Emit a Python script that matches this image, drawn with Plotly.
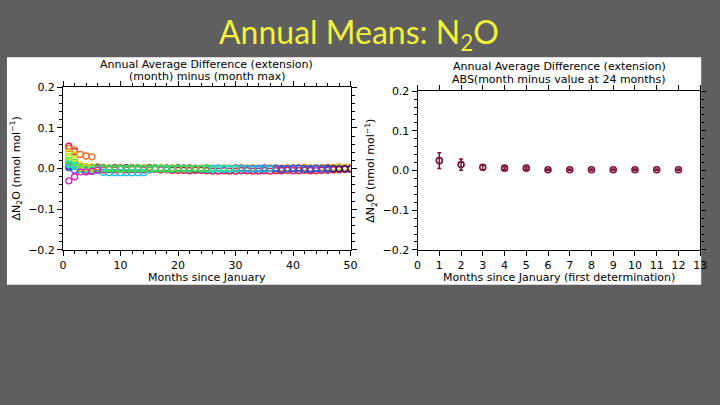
import plotly.graph_objects as go

W, H = 720, 405

# ---------------- data ----------------
months_left = list(range(1, 51))

red = [0.055, 0.042, 0.004, -0.004, -0.006, -0.004, -0.003, -0.002, -0.003, -0.002,
       -0.003, -0.002, -0.002, -0.003, -0.003, -0.002, -0.003, -0.003, -0.004, -0.004,
       -0.004, -0.005, -0.004, -0.004, -0.005, -0.006, -0.006, -0.005, -0.006, -0.006,
       -0.005, -0.005, -0.006, -0.006, -0.005, -0.006, -0.005, -0.005, -0.004, -0.005,
       -0.005, -0.004, -0.005, -0.005, -0.004, -0.004, -0.003, -0.003, -0.002, -0.002]
orange = [0.050, 0.046, 0.035, 0.031, 0.029, 0.004, 0.003, 0.002, 0.003, 0.002,
          0.002, 0.003, 0.002, 0.002, 0.003, 0.002, 0.002, 0.001, 0.002, 0.002,
          0.001, 0.002, 0.001, 0.001, 0.002, 0.001, 0.001, 0.002, 0.001, 0.001,
          0.002, 0.001, 0.002, 0.001, 0.001, 0.002, 0.001, 0.001, 0.002, 0.002,
          0.002, 0.003, 0.002, 0.002, 0.003, 0.003, 0.003, 0.004, 0.003, 0.003]
yellow = [0.040, 0.034, 0.010, 0.005, 0.004, 0.003, 0.002, 0.001, 0.002, 0.001,
          0.001, 0.002, 0.001, 0.001, 0.002, 0.001, 0.001, 0.000, 0.001, 0.001,
          0.000, 0.001, 0.000, 0.000, 0.001, 0.000, 0.000, 0.001, 0.000, 0.000,
          0.001, 0.000, 0.001, 0.000, 0.000, 0.001, 0.000, 0.000, 0.001, 0.001,
          0.001, 0.002, 0.001, 0.001, 0.002, 0.002, 0.002, 0.003, 0.002, 0.002]
navy = [0.006, 0.008, 0.003, 0.001, 0.001, 0.002, 0.001, 0.000, 0.001, 0.001,
        0.002, 0.001, 0.001, 0.000, 0.001, 0.001, 0.000, 0.001, 0.000, 0.001,
        0.001, 0.000, -0.001, 0.000, 0.001, 0.000, 0.000, -0.001, 0.000, 0.001,
        0.000, 0.000, -0.001, 0.000, 0.001, 0.000, 0.000, -0.001, 0.000, 0.000,
        0.001, 0.000, -0.001, 0.000, 0.000, 0.001, 0.000, 0.000, 0.000, 0.000]
blue = [0.002, -0.004, 0.001, 0.000, 0.002, 0.001, 0.000, 0.000, 0.001, 0.000,
        0.001, 0.000, 0.000, -0.001, 0.000, 0.001, 0.000, 0.000, -0.001, 0.000,
        0.000, 0.001, 0.000, -0.001, 0.000, 0.000, 0.001, 0.000, -0.001, 0.000,
        0.001, 0.000, 0.000, -0.001, 0.000, 0.000, 0.001, -0.001, 0.000, 0.001,
        0.000, -0.001, 0.000, 0.001, 0.000, -0.001]
cyan = [0.010, 0.005, -0.002, -0.003, -0.004, -0.004, -0.009, -0.010, -0.010, -0.010,
        -0.010, -0.010, -0.010, -0.010, -0.002, -0.001, 0.000, 0.000, -0.001, 0.000,
        0.000, -0.001, 0.000, 0.000, -0.002, -0.002, -0.001, -0.002, -0.001, -0.001,
        0.000, -0.001, -0.001, 0.000, -0.001, 0.000]
aqua = [0.012, 0.008, 0.000, 0.001, -0.001, 0.000, 0.001, 0.000, 0.000, -0.001,
        0.000, 0.001, 0.000, 0.000, 0.000, 0.001, 0.000, -0.001, 0.000, 0.000,
        0.001, 0.000, 0.000, 0.000, 0.001, 0.000, 0.000, 0.001, 0.000, 0.000]
green = [0.020, 0.015, 0.000, 0.000, 0.000, 0.000, 0.000, 0.001, 0.000, 0.000,
         0.000, 0.000, 0.001, 0.000, 0.000, 0.000, 0.001, 0.000, 0.000, 0.000,
         0.000, 0.000, 0.000, 0.000, 0.000]
ygreen = [0.030, 0.025, 0.003, 0.002, 0.001]
magenta = [-0.030, -0.020, -0.008, -0.008, -0.007, -0.003]

left_series = [
    ("red", red, "#d8184a"),
    ("orange", orange, "#f06a1e"),
    ("yellow", yellow, "#e6d800"),
    ("navy", navy, "#2a1878"),
    ("blue", blue, "#3a5cf0"),
    ("cyan", cyan, "#22bce8"),
    ("aqua", aqua, "#28f0b0"),
    ("green", green, "#40e038"),
    ("ygreen", ygreen, "#a8e820"),
    ("magenta", magenta, "#d81cc8"),
]

months_right = [1, 2, 3, 4, 5, 6, 7, 8, 9, 10, 11, 12]
abs_diff = [0.025, 0.015, 0.008, 0.006, 0.006, 0.002, 0.002, 0.002, 0.002, 0.002, 0.002, 0.002]
abs_err = [0.020, 0.014, 0.006, 0.003, 0.003, 0.002, 0.002, 0.002, 0.002, 0.002, 0.002, 0.002]

y_ticks = [-0.2, -0.1, 0.0, 0.1, 0.2]
y_ticklabels = ["\u22120.2", "\u22120.1", "0.0", "0.1", "0.2"]

# ---------------- figure ----------------
fig = go.Figure()

for name, vals, col in left_series:
    fig.add_trace(go.Scatter(
        x=months_left[:len(vals)], y=vals, mode="markers", name=name,
        marker=dict(symbol="circle-open", size=6, color=col, line=dict(width=1.3, color=col)),
        xaxis="x", yaxis="y", showlegend=False))

fig.add_trace(go.Scatter(
    x=months_right, y=abs_diff, mode="markers",
    marker=dict(symbol="circle-open", size=6, color="#7a1036", line=dict(width=1.6, color="#7a1036")),
    error_y=dict(type="data", array=abs_err, visible=True, color="#7a1036", thickness=1.5, width=2),
    xaxis="x2", yaxis="y2", showlegend=False))

def px_x(p):
    return p / W

def px_y(p):
    return 1 - p / H

FAM = "DejaVu Sans, Verdana, sans-serif"
font_ax = dict(family=FAM, size=11, color="black")
font_tick = dict(family=FAM, size=11, color="black")

common_axis = dict(showline=True, linecolor="black", linewidth=1, mirror="allticks",
                   ticks="outside", ticklen=5, tickcolor="black", tickwidth=1,
                   showgrid=False, zeroline=False, tickfont=font_tick)

fig.update_layout(
    width=W, height=H, margin=dict(l=0, r=0, t=0, b=0),
    paper_bgcolor="#5f5f5f", plot_bgcolor="#e0e0e0",
    xaxis=dict(domain=[px_x(60), px_x(352)], range=[0, 50], tickvals=[0, 10, 20, 30, 40, 50],
               minor=dict(dtick=2, ticklen=3, ticks="outside", tickcolor="black"),
               anchor="y", **common_axis),
    yaxis=dict(domain=[px_y(252), px_y(84)], range=[-0.2, 0.2], tickvals=y_ticks,
               ticktext=y_ticklabels,
               minor=dict(dtick=0.02, ticklen=3, ticks="outside", tickcolor="black"),
               anchor="x", **common_axis),
    xaxis2=dict(domain=[px_x(420), px_x(707)], range=[0, 13], tickvals=list(range(0, 14)),
                anchor="y2", **common_axis),
    yaxis2=dict(domain=[px_y(252), px_y(88)], range=[-0.2, 0.2], tickvals=y_ticks,
                ticktext=y_ticklabels,
                minor=dict(dtick=0.02, ticklen=3, ticks="outside", tickcolor="black"),
                anchor="x2", **common_axis),
    shapes=[dict(type="rect", xref="paper", yref="paper", layer="below",
                 x0=px_x(3), x1=px_x(708), y0=px_y(288), y1=px_y(53),
                 fillcolor="white", line=dict(width=0))],
)

def txt(text, x, y, font, angle=0):
    return dict(text=text, x=px_x(x), y=px_y(y), xref="paper", yref="paper",
                showarrow=False, font=font, textangle=angle,
                xanchor="center", yanchor="middle")

ann = [
    txt("Annual Means: N<sub>2</sub>O", 360, 29,
        dict(family="Lato, Open Sans, sans-serif", size=32, color="#f2f23a")),
    txt("Annual Average Difference (extension)", 206, 60, font_ax),
    txt("(month) minus (month max)", 206, 73, font_ax),
    txt("Annual Average Difference (extension)", 564, 63, font_ax),
    txt("ABS(month minus value at 24 months)", 564, 76, font_ax),
    txt("Months since January", 206, 280, font_ax),
    txt("Months since January (first determination)", 564, 280, font_ax),
    txt("\u0394N<sub>2</sub>O (nmol mol<sup>\u22121</sup>)", 12, 168, font_ax, -90),
    txt("\u0394N<sub>2</sub>O (nmol mol<sup>\u22121</sup>)", 372, 170, font_ax, -90),
]
fig.update_layout(annotations=ann)

fig.write_html("out.html")
